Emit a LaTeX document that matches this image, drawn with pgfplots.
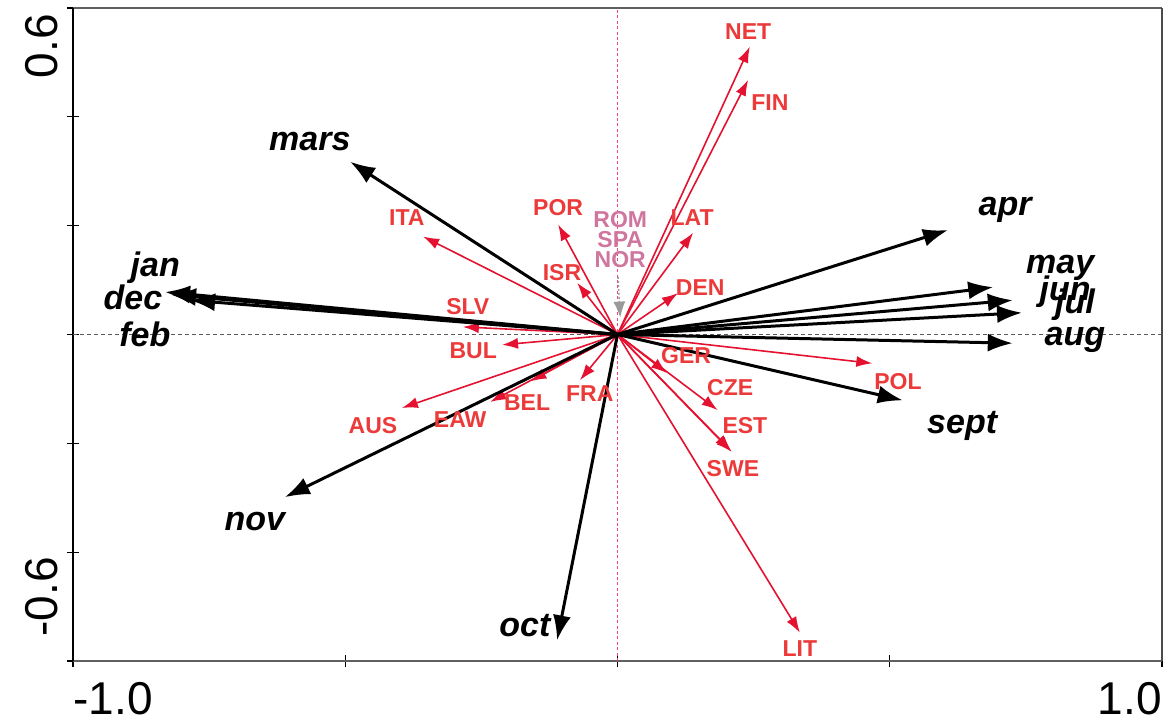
\documentclass[border=0pt]{standalone}
\usepackage{pgfplots}
\pgfplotsset{compat=1.18}
\usepackage{pgfplotstable}
\usetikzlibrary{arrows.meta}
\usepackage{fontspec}
\setmainfont{Liberation Sans}
\definecolor{arrred}{RGB}{228,18,48}
\definecolor{labred}{RGB}{236,58,58}
\definecolor{labpink}{RGB}{206,118,158}
\definecolor{vpink}{RGB}{245,70,120}

\pgfplotstableread{
name u v
mars -0.491 0.3175
jan -0.831 0.078
dec -0.820 0.073
feb -0.785 0.063
apr 0.607 0.192
may 0.690 0.087
jun 0.726 0.063
jul 0.743 0.040
aug 0.726 -0.016
sept 0.524 -0.121
oct -0.111 -0.562
nov -0.611 -0.299
}\months

\pgfplotstableread{
name u v
NET 0.243 0.529
FIN 0.240 0.468
LAT 0.139 0.187
DEN 0.111 0.076
POR -0.109 0.202
ISR -0.074 0.095
ITA -0.357 0.180
SLV -0.284 0.014
BUL -0.212 -0.019
AUS -0.396 -0.135
EAW -0.234 -0.124
BEL -0.160 -0.086
FRA -0.069 -0.084
GER 0.091 -0.071
CZE 0.184 -0.139
EST 0.208 -0.213
SWE 0.210 -0.216
POL 0.468 -0.053
LIT 0.335 -0.548
}\countries

\pgfplotstableread{
name x y
mars -0.565 0.354
jan -0.849 0.122
dec -0.890 0.069
feb -0.868 0.001
apr 0.712 0.229
may 0.813 0.122
jun 0.822 0.078
jul 0.840 0.054
aug 0.840 -0.010
sept 0.633 -0.168
nov -0.666 -0.343
oct -0.170 -0.535
}\monthlabels

\pgfplotstableread{
name x y
NET 0.240 0.557
FIN 0.280 0.426
LAT 0.137 0.214
DEN 0.152 0.087
POR -0.109 0.233
ISR -0.102 0.113
ITA -0.387 0.214
SLV -0.275 0.051
BUL -0.265 -0.029
AUS -0.449 -0.167
EAW -0.289 -0.157
BEL -0.166 -0.126
FRA -0.051 -0.108
GER 0.126 -0.038
CZE 0.207 -0.098
EST 0.234 -0.167
SWE 0.212 -0.246
POL 0.515 -0.086
LIT 0.335 -0.577
}\countrylabels

\pgfplotstableread{
name x y
ROM 0.005 0.211
SPA 0.005 0.174
NOR 0.005 0.137
}\pinklabels

\begin{document}
\begin{tikzpicture}
\begin{axis}[
  scale only axis, width=544.5pt, height=326.5pt,
  xmin=-1, xmax=1, ymin=-0.6, ymax=0.6,
  xtick={-1,-0.5,0,0.5,1}, ytick={-0.6,-0.4,-0.2,0,0.2,0.4,0.6},
  xticklabels={,,,,}, yticklabels={,,,,,,,},
  tick align=center, major tick length=6pt,
  xtick pos=bottom, ytick pos=left,
  tick style={black, line width=0.6pt},
  axis line style={draw=none},
  clip=false,
]
\coordinate (SW) at (rel axis cs:0,0);
\coordinate (NE) at (rel axis cs:1,1);
% frame
\draw[gray!75!black, line width=1.3pt] (rel axis cs:0,1) -- (rel axis cs:1,1);
\draw[gray!75!black, line width=1.3pt] (rel axis cs:0,0) -- (rel axis cs:1,0);
\draw[black, line width=0.7pt] (rel axis cs:0,0) -- (rel axis cs:0,1);
\draw[gray!60!black, line width=0.7pt] (rel axis cs:1,0) -- (rel axis cs:1,1);
% reference lines
\draw[gray!70!black, dash pattern=on 2pt off 1.5pt, line width=0.5pt] (axis cs:-1,0) -- (axis cs:1,0);
\draw[color=vpink, dash pattern=on 1.5pt off 1.2pt, line width=0.7pt] (axis cs:0,-0.6) -- (axis cs:0,0.6);
% country arrows
\addplot[arrred, line width=0.8pt, -{Latex[length=8pt,width=5.5pt]},
  quiver={u=\thisrow{u}, v=\thisrow{v}}] table[x expr=0, y expr=0] {\countries};
% ROM SPA NOR
\addplot[gray!80, line width=0.7pt, dash pattern=on 1pt off 1pt, -{Latex[length=8pt,width=6pt]}] coordinates {(0.001,0.106) (0.005,0.031)};
% month arrows
\addplot[black, line width=1.5pt, -{Latex[length=12.5pt,width=9pt]},
  quiver={u=\thisrow{u}, v=\thisrow{v}}] table[x expr=0, y expr=0] {\months};
% labels
\addplot[draw=none, mark=none, nodes near coords, point meta=explicit symbolic,
  nodes near coords style={anchor=center, text=black, inner sep=0pt, font=\fontsize{17}{17}\selectfont\bfseries\itshape}]
  table[x=x, y=y, meta=name] {\monthlabels};
\addplot[draw=none, mark=none, nodes near coords, point meta=explicit symbolic,
  nodes near coords style={anchor=center, text=labred, inner sep=0pt, font=\fontsize{11.5}{11.5}\selectfont\bfseries}]
  table[x=x, y=y, meta=name] {\countrylabels};
\addplot[draw=none, mark=none, nodes near coords, point meta=explicit symbolic,
  nodes near coords style={anchor=center, text=labpink, inner sep=0pt, font=\fontsize{11.5}{11.5}\selectfont\bfseries}]
  table[x=x, y=y, meta=name] {\pinklabels};
% tick labels
\node[anchor=north west, inner sep=0pt, font=\fontsize{23}{23}\selectfont] at ([yshift=-10.5pt]rel axis cs:0,0) {-1.0};
\node[anchor=north east, inner sep=0pt, font=\fontsize{23}{23}\selectfont] at ([yshift=-10.5pt]rel axis cs:1,0) {1.0};
\node[rotate=90, anchor=south east, inner sep=0pt, font=\fontsize{23}{23}\selectfont] at ([xshift=-7.5pt,yshift=-3pt]rel axis cs:0,1) {0.6};
\node[rotate=90, anchor=south west, inner sep=0pt, font=\fontsize{23}{23}\selectfont] at ([xshift=-7.5pt,yshift=12pt]rel axis cs:0,0) {-0.6};
\end{axis}
\pgfresetboundingbox
\path[use as bounding box] ([shift={(-36.5pt,-30.5pt)}]SW) rectangle ([shift={(5.5pt,4pt)}]NE);
\end{tikzpicture}
\end{document}
